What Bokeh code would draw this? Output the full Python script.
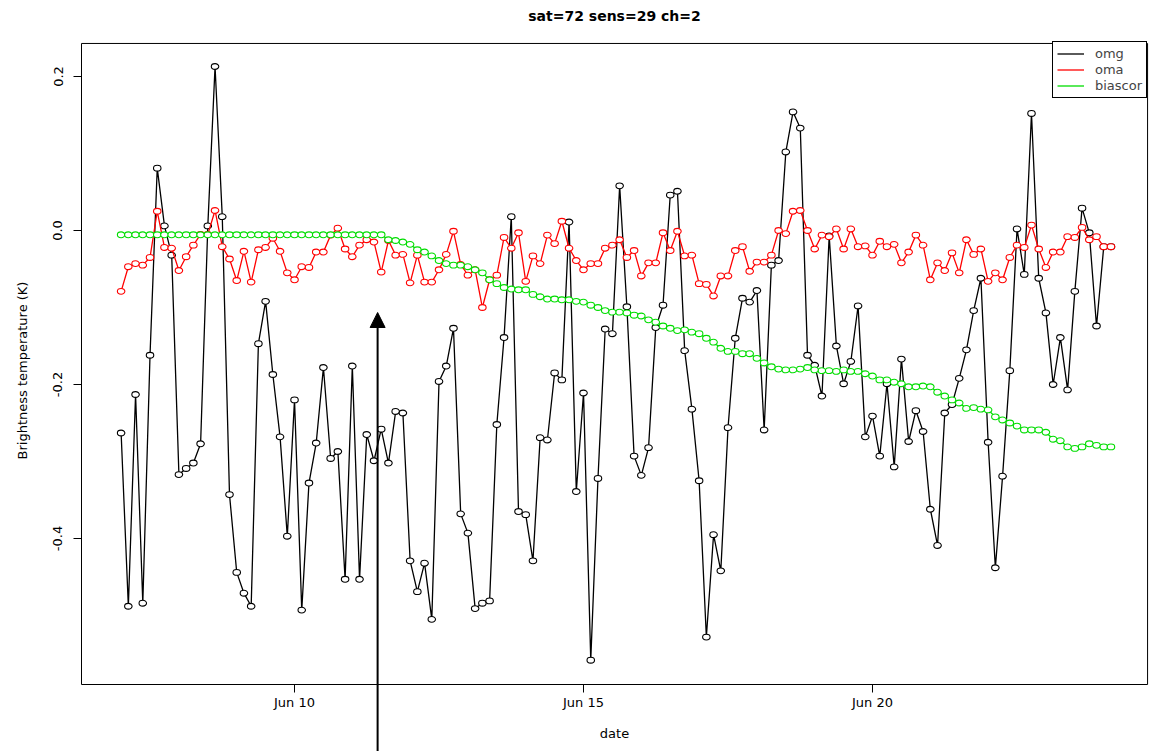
import math
import pandas as pd
from bokeh.plotting import figure
from bokeh.models import (ColumnDataSource, Range1d, FixedTicker, Legend, LegendItem,
                          Arrow, NormalHead, BoxAnnotation, Label)
from bokeh.embed import file_html
from bokeh.resources import INLINE

# ---------------- data ----------------
title_text = "sat=72 sens=29 ch=2"
x_label_text = "date"
y_label_text = "Brightness temperature (K)"
obs_start = "2008-06-07 00:00"
obs_step_hours = 3

omg = [-0.263, -0.488, -0.213, -0.484, -0.162, 0.081, 0.006, -0.032, -0.317, -0.309,
       -0.302, -0.277, 0.006, 0.213, 0.018, -0.343, -0.444, -0.471, -0.488, -0.147,
       -0.092, -0.187, -0.268, -0.397, -0.220, -0.493, -0.328, -0.276, -0.178, -0.296,
       -0.287, -0.453, -0.176, -0.453, -0.265, -0.299, -0.258, -0.302, -0.235, -0.237,
       -0.429, -0.469, -0.432, -0.505, -0.196, -0.176, -0.127, -0.368, -0.393, -0.491,
       -0.484, -0.481, -0.252, -0.139, 0.018, -0.365, -0.369, -0.429, -0.269, -0.272,
       -0.185, -0.194, 0.011, -0.339, -0.211, -0.558, -0.322, -0.128, -0.134, 0.058,
       -0.099, -0.293, -0.318, -0.282, -0.126, -0.097, 0.046, 0.051, -0.156, -0.232,
       -0.325, -0.528, -0.395, -0.442, -0.256, -0.140, -0.088, -0.093, -0.078, -0.259,
       -0.045, -0.039, 0.102, 0.154, 0.133, -0.162, -0.175, -0.215, -0.007, -0.150,
       -0.199, -0.170, -0.098, -0.268, -0.241, -0.293, -0.199, -0.307, -0.167, -0.274,
       -0.234, -0.261, -0.362, -0.409, -0.237, -0.226, -0.192, -0.155, -0.104, -0.062,
       -0.275, -0.438, -0.319, -0.182, 0.002, -0.057, 0.152, -0.062, -0.107, -0.200,
       -0.139, -0.207, -0.079, 0.029, -0.003, -0.124, -0.021, -0.021]

oma = [-0.079, -0.047, -0.043, -0.045, -0.035, 0.025, -0.022, -0.023, -0.052, -0.034,
       -0.019, -0.005, -0.005, 0.026, -0.021, -0.037, -0.065, -0.027, -0.067, -0.025,
       -0.022, -0.010, -0.027, -0.055, -0.064, -0.047, -0.048, -0.028, -0.028, -0.006,
       0.003, -0.024, -0.034, -0.019, -0.012, -0.015, -0.054, -0.013, -0.032, -0.031,
       -0.068, -0.032, -0.067, -0.067, -0.051, -0.031, -0.001, -0.044, -0.058, -0.051,
       -0.100, -0.064, -0.058, -0.009, -0.023, -0.003, -0.066, -0.033, -0.043, -0.006,
       -0.017, 0.012, -0.023, -0.039, -0.051, -0.043, -0.043, -0.023, -0.019, -0.012,
       -0.035, -0.026, -0.059, -0.042, -0.042, -0.003, -0.026, -0.001, -0.033, -0.032,
       -0.069, -0.070, -0.085, -0.059, -0.059, -0.026, -0.021, -0.053, -0.041, -0.041,
       -0.032, 0.000, -0.004, 0.025, 0.026, 0.000, -0.024, -0.006, -0.008, 0.002,
       -0.024, 0.002, -0.021, -0.020, -0.032, -0.014, -0.021, -0.018, -0.042, -0.028,
       -0.006, -0.019, -0.064, -0.042, -0.052, -0.029, -0.055, -0.012, -0.031, -0.024,
       -0.066, -0.055, -0.064, -0.035, -0.019, -0.022, 0.007, -0.024, -0.048, -0.028,
       -0.028, -0.008, -0.009, 0.004, -0.012, -0.008, -0.021, -0.021]

biascor = [-0.0056, -0.0056, -0.0056, -0.0056, -0.0056, -0.0056, -0.0056, -0.0056, -0.0056, -0.0056,
           -0.0056, -0.0056, -0.0056, -0.0056, -0.0056, -0.0056, -0.0056, -0.0056, -0.0056, -0.0056,
           -0.0056, -0.0056, -0.0056, -0.0056, -0.0056, -0.0056, -0.0056, -0.0056, -0.0056, -0.0056,
           -0.0056, -0.0056, -0.0056, -0.0056, -0.0056, -0.0056, -0.0056,
           -0.012, -0.013, -0.015, -0.018, -0.025, -0.028, -0.033, -0.039, -0.043, -0.045,
           -0.045, -0.047, -0.051, -0.055, -0.064, -0.069, -0.074, -0.076, -0.077, -0.077,
           -0.083, -0.086, -0.089, -0.089, -0.090, -0.090, -0.092, -0.093, -0.097, -0.100,
           -0.104, -0.106, -0.106, -0.107, -0.110, -0.111, -0.116, -0.119, -0.124, -0.127,
           -0.130, -0.129, -0.132, -0.134, -0.140, -0.145, -0.153, -0.157, -0.157, -0.160,
           -0.160, -0.166, -0.172, -0.177, -0.180, -0.181, -0.181, -0.180, -0.178, -0.181,
           -0.182, -0.182, -0.183, -0.181, -0.183, -0.183, -0.186, -0.189, -0.194, -0.194,
           -0.197, -0.199, -0.203, -0.203, -0.202, -0.203, -0.210, -0.215, -0.220, -0.224,
           -0.231, -0.230, -0.232, -0.233, -0.242, -0.246, -0.250, -0.254, -0.259, -0.259,
           -0.259, -0.262, -0.271, -0.273, -0.281, -0.283, -0.281, -0.277, -0.279, -0.281,
           -0.281]

series_names = ["omg", "oma", "biascor"]
series_colors = ["#000000", "#FF0000", "#00DD00"]

x_tick_dates = ["2008-06-10", "2008-06-15", "2008-06-20"]
x_tick_labels = ["Jun 10", "Jun 15", "Jun 20"]
y_ticks = [-0.4, -0.2, 0.0, 0.2]
y_tick_labels = ["-0.4", "-0.2", "0.0", "0.2"]

# plotting box (the drawn frame) and the full canvas extent
box_x = ["2008-06-06 07:33", "2008-06-24 18:12"]
box_y = [-0.5896, 0.2429]
canvas_x = ["2008-06-04 21:55", "2008-06-24 19:00"]
canvas_y = [-0.6766, 0.2987]

arrow_time = "2008-06-11 10:30"
arrow_tip = -0.1065
arrow_tail = -0.70

# ---------------- build ----------------
times = pd.date_range(obs_start, periods=len(omg), freq=f"{obs_step_hours}h")
src = ColumnDataSource(dict(t=times, omg=omg, oma=oma, biascor=biascor))


def ms(s):
    return pd.Timestamp(s).value / 1e6


FONT = "DejaVu Sans"
W, H = 1149, 751

p = figure(width=W, height=H, x_axis_type="datetime",
           x_range=Range1d(ms(canvas_x[0]), ms(canvas_x[1])),
           y_range=Range1d(canvas_y[0], canvas_y[1]),
           output_backend="svg", toolbar_location=None,
           min_border_left=0, min_border_right=0, min_border_top=0, min_border_bottom=0)

p.background_fill_color = "white"
p.border_fill_color = "white"
p.outline_line_color = None
p.xgrid.visible = False
p.ygrid.visible = False

for ax in (p.xaxis[0], p.yaxis[0]):
    ax.axis_line_color = None
    ax.major_tick_line_color = "black"
    ax.major_tick_out = 8
    ax.major_tick_in = 0
    ax.minor_tick_line_color = None
    ax.major_label_text_font = FONT
    ax.major_label_text_font_size = "13px"
    ax.major_label_text_color = "black"

xa = p.xaxis[0]
xa.fixed_location = box_y[0]
xa.ticker = FixedTicker(ticks=[ms(d) for d in x_tick_dates])
xa.major_label_overrides = {ms(d): lab for d, lab in zip(x_tick_dates, x_tick_labels)}
xa.major_label_standoff = 2

ya = p.yaxis[0]
ya.fixed_location = ms(box_x[0])
ya.ticker = FixedTicker(ticks=y_ticks)
ya.major_label_overrides = {v: lab for v, lab in zip(y_ticks, y_tick_labels)}
ya.major_label_orientation = "vertical"
ya.major_label_standoff = 11

box = BoxAnnotation(left=ms(box_x[0]), right=ms(box_x[1]), bottom=box_y[0], top=box_y[1],
                    fill_alpha=0, line_color="black", line_width=1, line_alpha=1)
p.add_layout(box)

items = []
for name, col in zip(series_names, series_colors):
    lr = p.line("t", name, source=src, line_color=col, line_width=1.3)
    p.ellipse("t", name, source=src, width=7.5, height=5.8,
              width_units="screen", height_units="screen",
              line_color=col, line_width=1.1, fill_color="white")
    leg = p.scatter(x=[], y=[], marker="circle", size=6.5, line_color=col,
                    line_width=1.1, fill_color="white")
    items.append(LegendItem(label=name, renderers=[lr, leg]))

legend = Legend(items=items, location=(1052, H - 98), margin=0, padding=4, spacing=1,
                label_height=15, glyph_height=15, glyph_width=27, label_standoff=11,
                border_line_color="black", border_line_width=1, border_line_alpha=1,
                label_text_font=FONT, label_text_font_size="13px",
                background_fill_color="white", background_fill_alpha=1)
p.add_layout(legend)

arrow = Arrow(end=NormalHead(size=15, fill_color="black", line_color="black"),
              x_start=ms(arrow_time), y_start=arrow_tail,
              x_end=ms(arrow_time), y_end=arrow_tip,
              line_color="black", line_width=2)
p.add_layout(arrow)

p.add_layout(Label(x=614, y=H - 15, x_units="screen", y_units="screen", text=title_text,
                   text_align="center", text_baseline="middle", text_font=FONT,
                   text_font_size="14px", text_font_style="bold", text_color="black"))
p.add_layout(Label(x=614, y=H - 733, x_units="screen", y_units="screen", text=x_label_text,
                   text_align="center", text_baseline="middle", text_font=FONT,
                   text_font_size="13px", text_color="black"))
p.add_layout(Label(x=22, y=H - 370, x_units="screen", y_units="screen", text=y_label_text,
                   angle=math.pi / 2, text_align="center", text_baseline="middle",
                   text_font=FONT, text_font_size="13px", text_color="black"))

open("out.html", "w").write(file_html(p, INLINE))
